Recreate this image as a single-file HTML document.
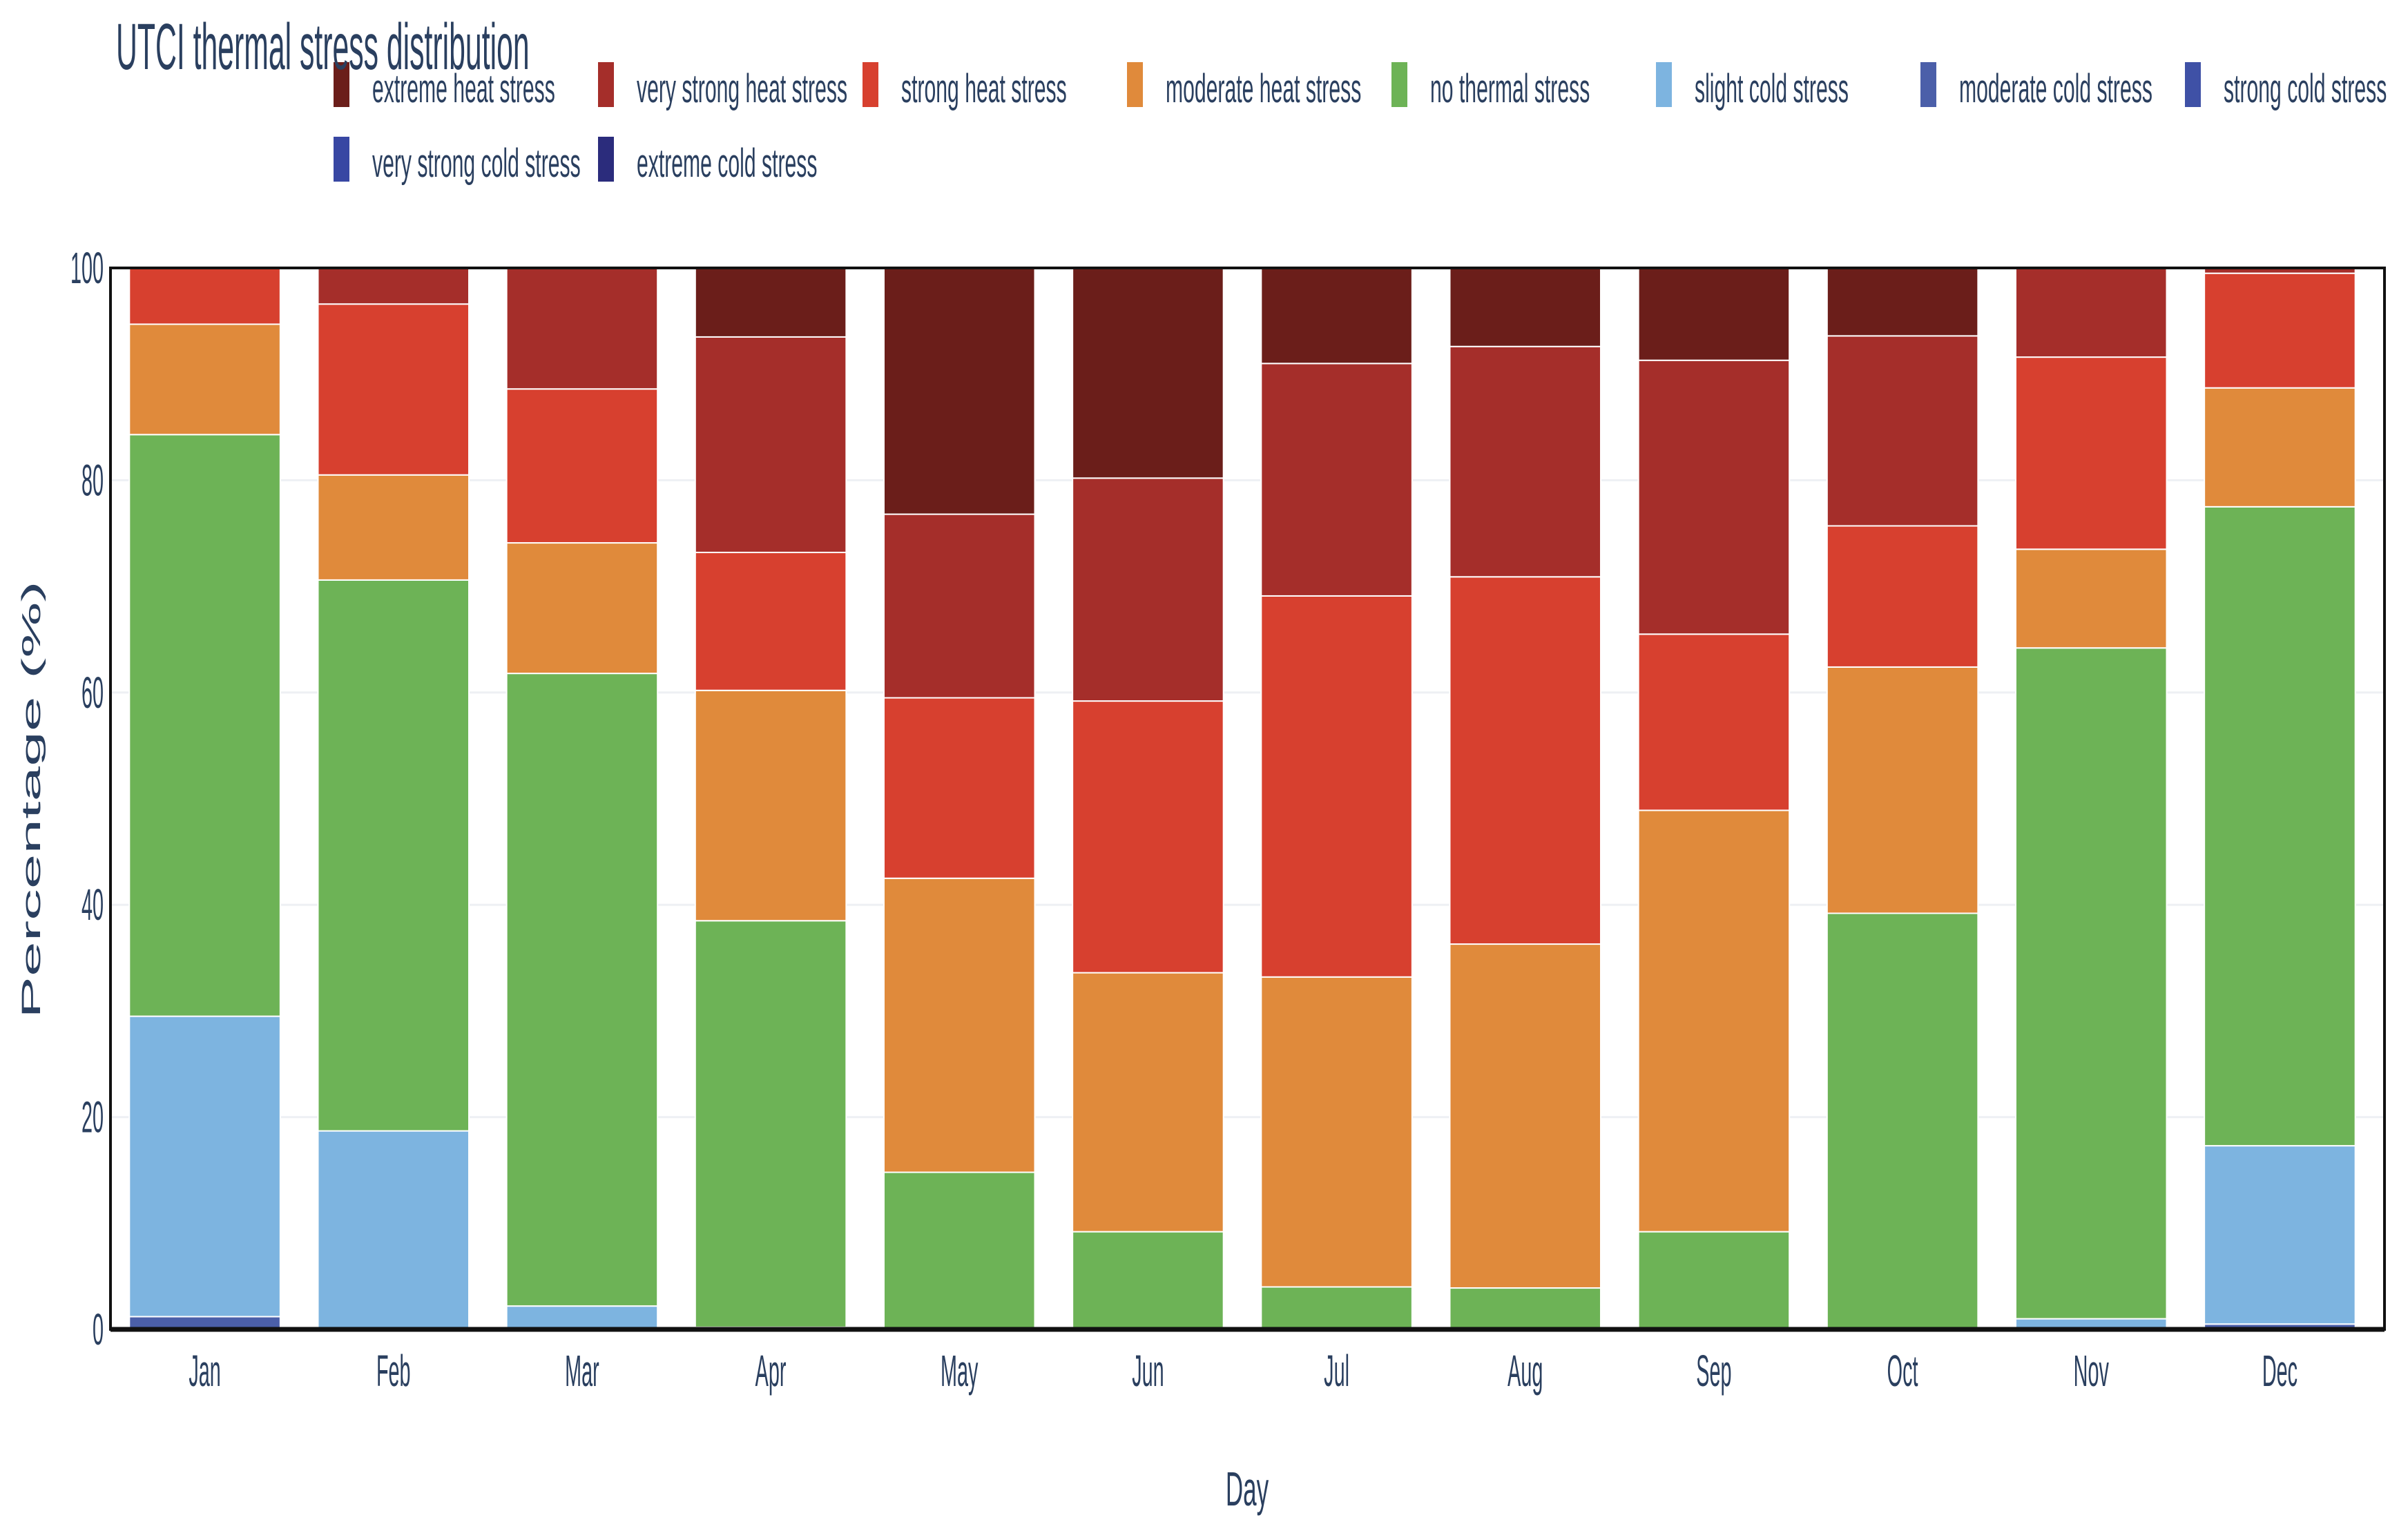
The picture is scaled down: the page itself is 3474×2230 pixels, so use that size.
<!DOCTYPE html>
<html><head><meta charset="utf-8"><style>
html,body{margin:0;padding:0;background:#fff;}
svg{display:block;font-family:"Liberation Sans",sans-serif;}
</style></head><body>
<svg id="chart" width="3474" height="2230" viewBox="0 0 3474 2230" xmlns="http://www.w3.org/2000/svg">
<rect width="3474" height="2230" fill="#fff"/>
<g id="grid"></g>
<g id="bars"></g>
<g id="axes"></g>
<g id="legend"></g>
<text transform="translate(168,100) scale(0.45,1)" font-size="95" fill="#2a3f5f">UTCI thermal stress distribution</text>
<text transform="translate(1806,2180) scale(0.5,1)" font-size="70" fill="#2a3f5f" text-anchor="middle">Day</text>
<text transform="translate(58,1158) rotate(-90) scale(2.4,1)" font-size="38" fill="#2a3f5f" text-anchor="middle">Percentage (%)</text>
</svg>
<script>
const months = ["Jan","Feb","Mar","Apr","May","Jun","Jul","Aug","Sep","Oct","Nov","Dec"];
const seriesNames = ["extreme cold stress","very strong cold stress","strong cold stress","moderate cold stress","slight cold stress","no thermal stress","moderate heat stress","strong heat stress","very strong heat stress","extreme heat stress"];
const extremeCold =    [0,0,0,0,0,0,0,0,0,0,0,0];
const veryStrongCold = [0,0,0,0,0,0,0,0,0,0,0,0];
const strongCold =     [0,0,0,0,0,0,0,0,0,0,0,0];
const moderateCold =   [1.2,0,0,0,0,0,0,0,0,0,0,0.5];
const slightCold =     [28.3,18.7,2.2,0.2,0,0,0,0,0,0,1.0,16.8];
const noThermal =      [54.8,51.9,59.6,38.3,14.8,9.2,4.0,3.9,9.2,39.2,63.2,60.2];
const moderateHeat =   [10.4,9.9,12.3,21.7,27.7,24.4,29.2,32.4,39.7,23.2,9.3,11.2];
const strongHeat =     [5.3,16.1,14.5,13.0,17.0,25.6,35.9,34.6,16.6,13.3,18.1,10.8];
const veryStrongHeat = [0,3.4,11.4,20.3,17.3,21.0,21.9,21.7,25.8,17.9,8.4,0.5];
const extremeHeat =    [0,0,0,6.5,23.2,19.8,9.0,7.4,8.7,6.4,0,0];
const yTicks = [0,20,40,60,80,100];

const series = [extremeCold,veryStrongCold,strongCold,moderateCold,slightCold,noThermal,moderateHeat,strongHeat,veryStrongHeat,extremeHeat];
const colors = ["#2b2c7c","#3847a3","#3f51a6","#4b5fa9","#7db4e0","#6db356","#e08a3b","#d7402f","#a52e2a","#6b1e1a"];
const slugs = ["extreme-cold","very-strong-cold","strong-cold","moderate-cold","slight-cold","no-thermal","moderate-heat","strong-heat","very-strong-heat","extreme-heat"];

const NS="http://www.w3.org/2000/svg";
const X0=160,X1=3453,XB=3438,Y0=1925,Y1=388;
const band=(XB-X0)/months.length, bw=band*0.8;
const y=v=>Y0-(v/100)*(Y0-Y1);
const xc=i=>X0+band*(i+0.5);
function mk(tag,attrs,parent){const e=document.createElementNS(NS,tag);for(const k in attrs)e.setAttribute(k,attrs[k]);parent.appendChild(e);return e;}

const grid=document.getElementById('grid');
yTicks.forEach(t=>{
  if(t>0&&t<100){const l=mk('line',{x1:X0,x2:X1,y1:y(t),y2:y(t),stroke:'#eef0f4','stroke-width':3},grid);
  
  }
});

const bars=document.getElementById('bars');
months.forEach((m,i)=>{
  let cum=0;
  series.forEach((s,k)=>{
    const v=s[i]; if(v<=0) return;
    const r=mk('rect',{x:xc(i)-bw/2,y:y(cum+v),width:bw,height:y(cum)-y(cum+v),fill:colors[k],stroke:'#fff','stroke-width':2},bars);
    
    
    cum+=v;
  });
});

const axes=document.getElementById('axes');
const frame=mk('rect',{x:X0,y:Y1,width:X1-X0,height:Y0-Y1,fill:'none',stroke:'#111','stroke-width':4},axes);


const bl=mk('line',{x1:X0,x2:X1,y1:Y0,y2:Y0,stroke:'#111','stroke-width':7},axes);


yTicks.forEach(t=>{
  const tx=mk('text',{transform:`translate(150,${y(t)+22}) scale(0.45,1)`,'font-size':64,fill:'#2a3f5f','text-anchor':'end'},axes);
  tx.textContent=t;
  
  
});
months.forEach((m,i)=>{
  const tx=mk('text',{transform:`translate(${xc(i)},2007) scale(0.45,1)`,'font-size':64,fill:'#2a3f5f','text-anchor':'middle'},axes);
  tx.textContent=m;
  
  
});

const legend=document.getElementById('legend');
const order=[9,8,7,6,5,4,3,2,1,0];
order.forEach((k,j)=>{
  const row=j<8?0:1, col=j<8?j:j-8;
  const lx=483+col*383, ly=row?198:90;
  const g=mk('g',{},legend);
  
  
  mk('rect',{x:lx,y:ly,width:23,height:65,fill:colors[k]},g);
  const tx=mk('text',{transform:`translate(${lx+56},${ly+58}) scale(0.52,1)`,'font-size':58,fill:'#2a3f5f'},g);
  tx.textContent=seriesNames[k];
});
</script>
</body></html>
